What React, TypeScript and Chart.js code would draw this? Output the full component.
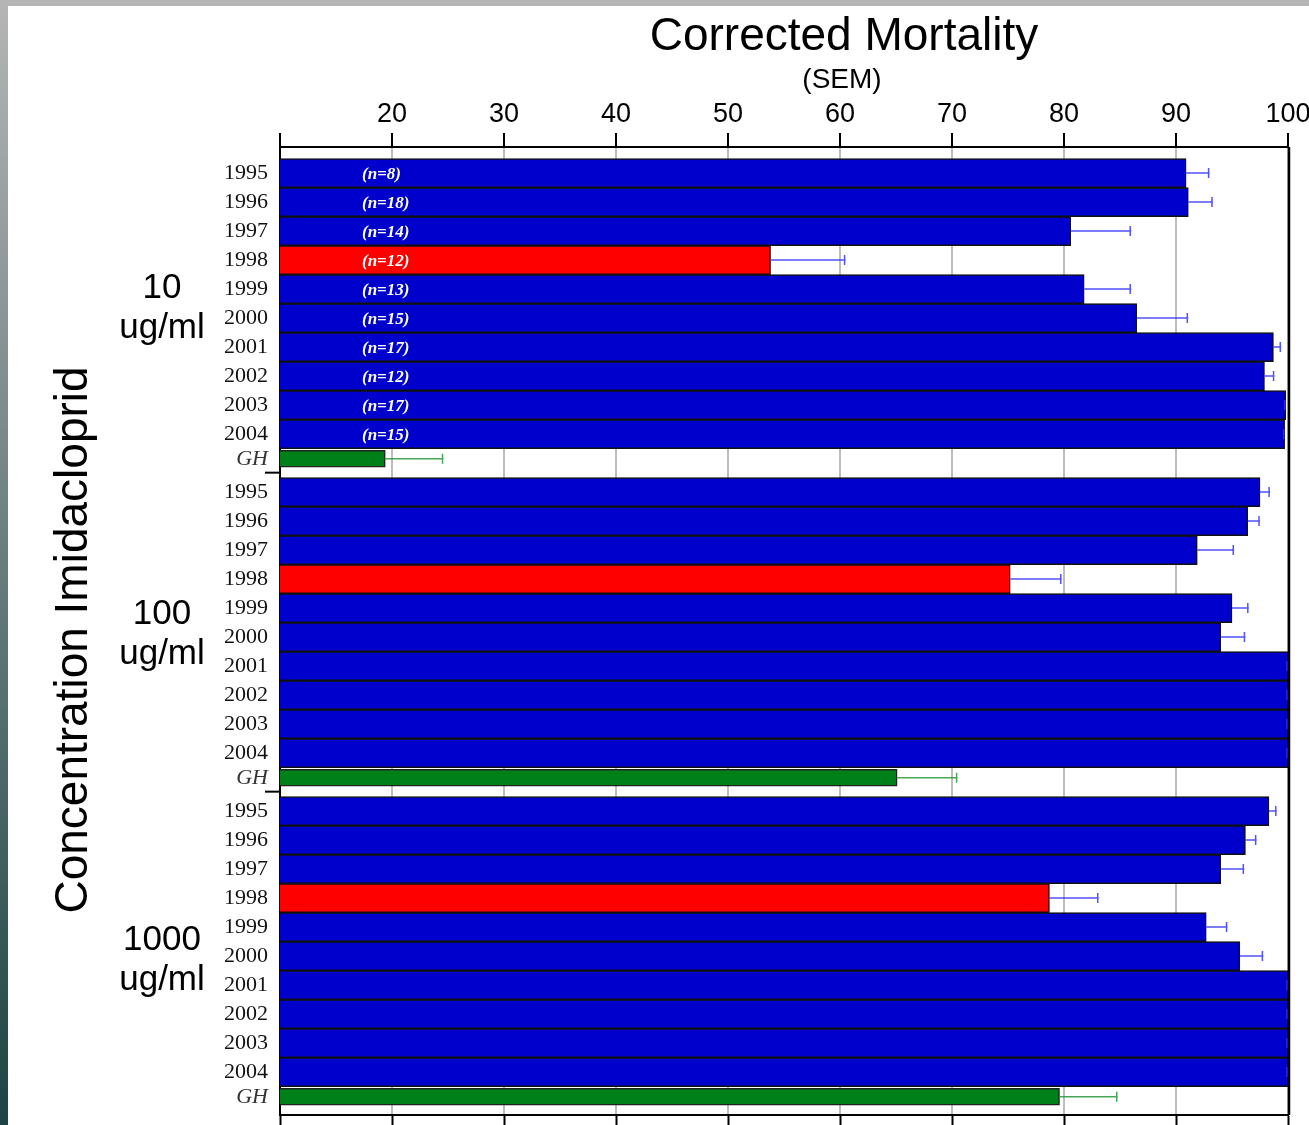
import { useEffect, useRef } from 'react';
import { Chart, registerables } from 'chart.js';

Chart.register(...registerables);

// ---------------- data ----------------
const TITLE = 'Corrected Mortality';
const SUBTITLE = '(SEM)';
const Y_TITLE = 'Concentration Imidacloprid';
const YEARS = ['1995', '1996', '1997', '1998', '1999', '2000', '2001', '2002', '2003', '2004'];
const CONTROL_LABEL = 'GH';
const HIGHLIGHT_YEAR = '1998';
const CONCENTRATIONS = ['10', '100', '1000'];
const CONC_UNIT = 'ug/ml';

const MORTALITY_10 = [90.9, 91.1, 80.6, 53.8, 81.8, 86.5, 98.7, 97.9, 99.8, 99.7];
const SEM_10 = [2.1, 2.2, 5.4, 6.7, 4.2, 4.6, 0.7, 0.9, 0.0, 0.0];
const MORTALITY_100 = [97.5, 96.4, 91.9, 75.2, 95.0, 94.0, 100, 100, 100, 100];
const SEM_100 = [0.9, 1.1, 3.3, 4.6, 1.5, 2.2, 0.0, 0.0, 0.0, 0.0];
const MORTALITY_1000 = [98.3, 96.2, 94.0, 78.7, 92.7, 95.7, 100, 100, 100, 100];
const SEM_1000 = [0.7, 1.0, 2.1, 4.4, 1.9, 2.1, 0.0, 0.0, 0.0, 0.0];
const CONTROL_MORTALITY = [19.4, 65.1, 79.6];
const CONTROL_SEM = [5.2, 5.4, 5.2];
const SAMPLE_SIZES_10 = [8, 18, 14, 12, 13, 15, 17, 12, 17, 15];

const X_MIN = 10;
const X_MAX = 100;
const X_STEP = 10;

// ---------------- layout (row units / styles) ----------------
const GROUP_MORTALITY = [MORTALITY_10, MORTALITY_100, MORTALITY_1000];
const GROUP_SEM = [SEM_10, SEM_100, SEM_1000];
const GROUP_PITCH = 11;
const CONTROL_SLOT = 9.85;
const GROUP_BOUNDARY = 10.33;
const GROUP_LABEL_SLOT = 4.31;
const GROUP_LABEL_PITCH = 11.24;
const Y_MIN = -0.9;
const Y_MAX = 32.48;

const BLUE = '#0000CC';
const RED = '#FF0000';
const GREEN = '#008018';
const BLUE_ERR = 'rgba(50,50,255,0.85)';
const GREEN_ERR = 'rgba(40,150,60,0.85)';
const SANS = '"Liberation Sans", Arial, sans-serif';
const SERIF = '"Liberation Serif", "Times New Roman", serif';

type Row = { pos: number; value: number; sem: number; label: string; control: boolean };

const YEAR_ROWS: Row[] = [];
const CONTROL_ROWS: Row[] = [];
CONCENTRATIONS.forEach((_, g) => {
  YEARS.forEach((yr, r) => {
    YEAR_ROWS.push({
      pos: g * GROUP_PITCH + r,
      value: GROUP_MORTALITY[g][r],
      sem: GROUP_SEM[g][r],
      label: yr,
      control: false,
    });
  });
  CONTROL_ROWS.push({
    pos: g * GROUP_PITCH + CONTROL_SLOT,
    value: CONTROL_MORTALITY[g],
    sem: CONTROL_SEM[g],
    label: CONTROL_LABEL,
    control: true,
  });
});
const ALL_ROWS = [...YEAR_ROWS, ...CONTROL_ROWS].sort((a, b) => a.pos - b.pos);
const TICK_POSITIONS = ALL_ROWS.map((r) => r.pos);
const TICK_LABELS = ALL_ROWS.map((r) => r.label);

const overlayPlugin = {
  id: 'overlay',
  afterDatasetsDraw(chart: any) {
    const { ctx, chartArea } = chart;
    const xs = chart.scales.x;
    const ys = chart.scales.y;
    ctx.save();
    // error bars
    [...YEAR_ROWS, ...CONTROL_ROWS].forEach((r) => {
      const x0 = xs.getPixelForValue(r.value);
      const x1 = xs.getPixelForValue(Math.min(r.value + r.sem, X_MAX));
      const y = ys.getPixelForValue(r.pos);
      ctx.strokeStyle = r.control ? GREEN_ERR : BLUE_ERR;
      ctx.lineWidth = 1.5;
      ctx.beginPath();
      ctx.moveTo(x0, y);
      ctx.lineTo(x1, y);
      ctx.moveTo(x1 - 1, y - 5);
      ctx.lineTo(x1 - 1, y + 5);
      ctx.stroke();
    });
    // sample sizes
    ctx.fillStyle = '#ffffff';
    ctx.font = `italic bold 17px ${SERIF}`;
    ctx.textAlign = 'left';
    ctx.textBaseline = 'middle';
    SAMPLE_SIZES_10.forEach((n, r) => {
      ctx.fillText(`(n=${n})`, chartArea.left + 82, ys.getPixelForValue(r) + 2);
    });
    ctx.restore();
  },
  afterDraw(chart: any) {
    const { ctx, chartArea } = chart;
    const ys = chart.scales.y;
    ctx.save();
    // right frame
    ctx.strokeStyle = '#000';
    ctx.lineWidth = 2.5;
    ctx.beginPath();
    ctx.moveTo(chartArea.right + 1, chartArea.top);
    ctx.lineTo(chartArea.right + 1, chartArea.bottom);
    ctx.stroke();
    // group separators on left axis
    ctx.lineWidth = 2;
    for (let g = 0; g < CONCENTRATIONS.length - 1; g++) {
      const y = ys.getPixelForValue(g * GROUP_PITCH + GROUP_BOUNDARY);
      ctx.beginPath();
      ctx.moveTo(chartArea.left - 15, y);
      ctx.lineTo(chartArea.left, y);
      ctx.stroke();
    }
    // titles
    ctx.fillStyle = '#000';
    ctx.textAlign = 'center';
    ctx.textBaseline = 'alphabetic';
    ctx.font = `46px ${SANS}`;
    ctx.fillText(TITLE, 836, 45);
    ctx.font = `28px ${SANS}`;
    ctx.fillText(SUBTITLE, 834, 83);
    // group labels
    ctx.font = `35px ${SANS}`;
    CONCENTRATIONS.forEach((c, g) => {
      const y = ys.getPixelForValue(GROUP_LABEL_SLOT + g * GROUP_LABEL_PITCH);
      ctx.fillText(c, 154, y);
      ctx.fillText(CONC_UNIT, 154, y + 40);
    });
    // rotated y title
    ctx.translate(79, 635);
    ctx.rotate(-Math.PI / 2);
    ctx.font = `46px ${SANS}`;
    ctx.fillText(Y_TITLE, 0, 0);
    ctx.restore();
  },
};

export default function App() {
  const canvasRef = useRef<HTMLCanvasElement | null>(null);

  useEffect(() => {
    if (!canvasRef.current) return;
    const chart = new Chart(canvasRef.current, {
      type: 'bar',
      data: {
        datasets: [
          {
            label: 'Years',
            data: YEAR_ROWS.map((r) => ({ x: r.value, y: r.pos })),
            backgroundColor: YEAR_ROWS.map((r) => (r.label === HIGHLIGHT_YEAR ? RED : BLUE)),
            borderColor: '#111',
            borderWidth: 1.5,
            barThickness: 29,
            grouped: false,
            xAxisID: 'x',
            yAxisID: 'y',
          } as any,
          {
            label: CONTROL_LABEL,
            data: CONTROL_ROWS.map((r) => ({ x: r.value, y: r.pos })),
            backgroundColor: GREEN,
            borderColor: '#222',
            borderWidth: 1.5,
            barThickness: 17,
            grouped: false,
            xAxisID: 'x',
            yAxisID: 'y',
          } as any,
        ],
      },
      options: {
        indexAxis: 'y',
        animation: false,
        responsive: false,
        layout: { padding: { left: 0, top: 0, right: 40, bottom: 0 } },
        plugins: {
          legend: { display: false },
          tooltip: { enabled: false },
          title: { display: false },
        },
        scales: {
          x: {
            type: 'linear',
            position: 'top',
            min: X_MIN,
            max: X_MAX,
            afterFit: (s: any) => {
              s.height = 142;
            },
            ticks: {
              stepSize: X_STEP,
              padding: 2,
              color: '#000',
              maxRotation: 0,
              autoSkip: false,
              font: { family: SANS, size: 27 },
              callback: (v: any) => (v === X_MIN ? '' : String(v)),
            },
            grid: { color: '#bdbdbd', lineWidth: 2, tickColor: '#000', tickWidth: 2, tickLength: 14 },
            border: { color: '#000', width: 2 },
          },
          x2: {
            type: 'linear',
            position: 'bottom',
            min: X_MIN,
            max: X_MAX,
            afterFit: (s: any) => {
              s.height = 10;
            },
            ticks: { stepSize: X_STEP, display: false },
            grid: { drawOnChartArea: false, tickColor: '#000', tickWidth: 2, tickLength: 10 },
            border: { color: '#000', width: 2 },
          },
          y: {
            type: 'linear',
            reverse: true,
            min: Y_MIN,
            max: Y_MAX,
            offset: false,
            afterBuildTicks: (s: any) => {
              s.ticks = TICK_POSITIONS.map((v) => ({ value: v }));
            },
            afterFit: (s: any) => {
              s.width = 272;
              s.paddingTop = 0;
              s.paddingBottom = 0;
            },
            grid: { display: false, drawTicks: false },
            border: { display: true, color: '#000', width: 2 },
            ticks: {
              autoSkip: false,
              padding: 12,
              color: (c: any) => (TICK_LABELS[c.index] === CONTROL_LABEL ? '#333' : '#111'),
              font: (c: any) => ({
                family: SERIF,
                size: 22,
                style: TICK_LABELS[c.index] === CONTROL_LABEL ? 'italic' : 'normal',
              }),
              callback: (_v: any, i: number) => TICK_LABELS[i],
            },
          },
        } as any,
      },
      plugins: [overlayPlugin],
    });
    return () => chart.destroy();
  }, []);

  return (
    <div
      style={{
        position: 'fixed',
        left: 0,
        top: 0,
        width: 1309,
        height: 1125,
        overflow: 'hidden',
        background: '#ffffff',
      }}
    >
      <canvas
        ref={canvasRef}
        width={1320}
        height={1120}
        style={{ position: 'absolute', left: 8, top: 5, width: 1320, height: 1120 }}
      />
      <div style={{ position: 'absolute', left: 0, top: 0, width: 1309, height: 6, background: '#b5b5b5' }} />
      <div
        style={{
          position: 'absolute',
          left: 0,
          top: 0,
          width: 8,
          height: 1125,
          background: 'linear-gradient(#b5b5b5, #1c4444)',
        }}
      />
    </div>
  );
}
